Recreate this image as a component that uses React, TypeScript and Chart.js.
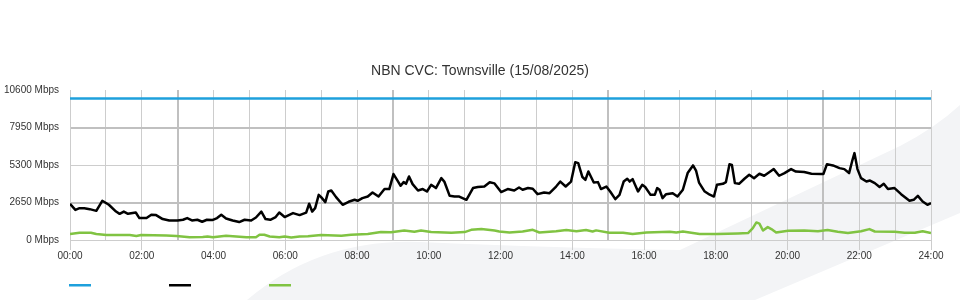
import React, { useEffect, useRef } from "react";
import { Chart, registerables } from "chart.js";

Chart.register(...registerables);

// ---- Data (minutes since midnight, Mbps) ----
const capacityMinutes = [0, 1440];
const capacityMbps = [10000, 10000];

const downloadMinutes = [
  0, 9, 16, 24, 33, 44, 54, 65, 77, 83, 90, 97, 110, 116, 128, 136, 144, 155, 166, 180,
  189, 196, 204, 213, 221, 229, 238, 246, 253, 261, 272, 283, 292, 303, 311, 320, 327, 335, 344, 350,
  359, 373, 384, 395, 400, 405, 410, 416, 420, 427, 432, 437, 445, 456, 466, 476, 481, 489, 498, 506,
  516, 526, 534, 541, 547, 553, 558, 562, 567, 573, 582, 590, 597, 604, 612, 621, 626, 635, 643, 651,
  663, 674, 682, 693, 702, 710, 721, 732, 743, 751, 757, 766, 774, 782, 793, 802, 813, 820, 829, 838,
  845, 850, 857, 862, 867, 876, 883, 888, 897, 904, 912, 919, 926, 932, 936, 941, 950, 957, 962, 971,
  978, 982, 986, 991, 997, 1008, 1016, 1025, 1033, 1042, 1047, 1052, 1061, 1070, 1077, 1082, 1092, 1097, 1103, 1107,
  1112, 1119, 1128, 1136, 1144, 1153, 1161, 1170, 1177, 1186, 1195, 1206, 1214, 1228, 1240, 1256, 1260, 1266, 1276, 1287,
  1295, 1303, 1308, 1312, 1317, 1323, 1332, 1338, 1346, 1354, 1361, 1368, 1379, 1390, 1404, 1411, 1418, 1426, 1434, 1440,
];
const downloadMbps = [
  2560, 2130, 2250, 2250, 2180, 2060, 2770, 2490, 2010, 1850, 2010, 1850, 1940, 1550, 1550, 1780, 1760, 1480, 1380, 1380,
  1430, 1550, 1380, 1430, 1290, 1430, 1410, 1550, 1780, 1520, 1380, 1270, 1430, 1380, 1590, 2010, 1480, 1430, 1620, 1940,
  1620, 1900, 1760, 1940, 2560, 2010, 2250, 3190, 3030, 2680, 3430, 3500, 3030, 2490, 2700, 2840, 2770, 2960, 3070, 3360,
  3070, 3600, 3600, 4660, 4250, 3830, 4090, 3970, 4490, 3950, 3500, 3600, 3430, 3900, 3670, 4370, 4130, 3120, 3070, 3070,
  2840, 3670, 3740, 3780, 4080, 4000, 3390, 3600, 3500, 3710, 3550, 3670, 3620, 3240, 3360, 3310, 3780, 4130, 3780, 4130,
  5500, 5430, 4450, 4250, 4840, 4060, 4090, 3600, 3780, 3390, 2890, 3190, 4130, 4330, 4130, 4300, 3430, 3900, 3740, 3190,
  3190, 3670, 3550, 2960, 3240, 3310, 3070, 3550, 4730, 5270, 4910, 4060, 3450, 3200, 3070, 3900, 3970, 4090, 5360, 5310,
  4020, 3970, 4330, 4610, 4370, 4680, 4540, 4800, 5010, 4540, 4730, 5010, 4840, 4800, 4680, 4660, 4660, 5360, 5270, 5080,
  5010, 4730, 5550, 6140, 5010, 4370, 4130, 4200, 4020, 3740, 3970, 3600, 3670, 3240, 2770, 2840, 3120, 2720, 2490, 2610,
];

const uploadMinutes = [
  0, 16, 35, 44, 61, 100, 111, 119, 161, 178, 200, 222, 230, 239, 261, 295, 311, 317, 325, 334,
  350, 359, 370, 384, 398, 420, 454, 470, 498, 520, 537, 559, 576, 587, 604, 638, 660, 671, 688, 699,
  710, 718, 735, 757, 774, 785, 813, 830, 847, 863, 874, 880, 902, 925, 941, 964, 1003, 1014, 1025, 1053,
  1070, 1083, 1117, 1134, 1142, 1148, 1153, 1159, 1167, 1173, 1181, 1201, 1228, 1251, 1267, 1284, 1301, 1323, 1337, 1346,
  1379, 1396, 1413, 1426, 1440,
];
const uploadMbps = [
  420, 510, 510, 420, 350, 350, 280, 350, 310, 280, 190, 220, 250, 190, 300, 190, 200, 370, 370, 250,
  190, 240, 170, 240, 260, 350, 300, 370, 420, 560, 540, 670, 590, 670, 560, 510, 560, 720, 770, 720,
  670, 600, 530, 600, 720, 530, 620, 700, 620, 700, 600, 680, 510, 510, 420, 530, 580, 530, 600, 420,
  420, 420, 460, 490, 840, 1240, 1160, 670, 910, 770, 530, 650, 670, 620, 700, 580, 490, 620, 770, 600,
  580, 510, 510, 620, 490,
];

const yTicks = [0, 2650, 5300, 7950, 10600];
const titleText = "NBN CVC: Townsville (15/08/2025)";

const FONT = "'Liberation Sans', Arial, Helvetica, sans-serif";

const toPoints = (xs: number[], ys: number[]) => xs.map((x, i) => ({ x, y: ys[i] }));

const fmtTime = (m: number) => {
  const h = Math.floor(m / 60);
  const mm = m % 60;
  return `${String(h).padStart(2, "0")}:${String(mm).padStart(2, "0")}`;
};

const GRID = "#cdcdcd";
const GRID_DARK = "#c0c0c0";

const swooshPlugin = {
  id: "swoosh",
  beforeDraw(chart: any) {
    const { ctx } = chart;
    ctx.save();
    ctx.fillStyle = "#f3f4f6";
    ctx.beginPath();
    ctx.moveTo(247, 300);
    ctx.quadraticCurveTo(320, 238, 420, 242);
    ctx.quadraticCurveTo(560, 248, 680, 250);
    ctx.lineTo(900, 146);
    ctx.quadraticCurveTo(935, 128, 960, 105);
    ctx.lineTo(960, 213);
    ctx.lineTo(755, 300);
    ctx.closePath();
    ctx.fill();
    ctx.restore();
  },
};

const swatchLegendPlugin = {
  id: "swatchLegend",
  afterDraw(chart: any) {
    const { ctx, chartArea } = chart;
    ctx.save();
    chart.data.datasets.forEach((ds: any, i: number) => {
      ctx.fillStyle = ds.borderColor;
      ctx.fillRect(chartArea.left - 1 + i * 100, 284, 22, 2.5);
    });
    ctx.restore();
  },
};

export default function App() {
  const canvasRef = useRef<HTMLCanvasElement | null>(null);

  useEffect(() => {
    document.body.style.margin = "0";
    if (!canvasRef.current) return;
    const chart = new Chart(canvasRef.current, {
      type: "line",
      data: {
        datasets: [
          {
            label: "Capacity",
            data: toPoints(capacityMinutes, capacityMbps),
            borderColor: "#1ea0dc",
            borderWidth: 2.5,
            pointRadius: 0,
            tension: 0,
          },
          {
            label: "Download",
            data: toPoints(downloadMinutes, downloadMbps),
            borderColor: "#000000",
            borderWidth: 2.5,
            pointRadius: 0,
            tension: 0,
            borderJoinStyle: "round",
          },
          {
            label: "Upload",
            data: toPoints(uploadMinutes, uploadMbps),
            borderColor: "#80c342",
            borderWidth: 2.5,
            pointRadius: 0,
            tension: 0,
            borderJoinStyle: "round",
          },
        ],
      },
      options: {
        animation: false,
        responsive: true,
        maintainAspectRatio: false,
        layout: { padding: 0 },
        plugins: {
          legend: { display: false },
          tooltip: { enabled: false },
          title: {
            display: true,
            text: titleText,
            color: "#333333",
            font: { family: FONT, size: 14, weight: "normal" },
            padding: { top: 63, bottom: 10.2 },
          },
        },
        scales: {
          x: {
            type: "linear",
            min: 0,
            max: 1440,
            afterFit: (scale: any) => {
              scale.height = 60;
            },
            ticks: {
              stepSize: 60,
              autoSkip: false,
              maxRotation: 0,
              padding: 0,
              color: "#333333",
              font: { family: FONT, size: 10 },
              callback: (v: any) => (Number(v) % 120 === 0 ? fmtTime(Number(v)) : ""),
            },
            grid: {
              tickLength: 10,
              color: (c: any) => ((c.tick?.value / 60) % 6 === 3 ? GRID_DARK : GRID),
              lineWidth: (c: any) => ((c.tick?.value / 60) % 6 === 3 ? 2 : 1),
              tickColor: (c: any) => (c.tick?.value % 120 === 0 ? GRID : "rgba(0,0,0,0)"),
            },
            border: { color: GRID, width: 1 },
          },
          y: {
            type: "linear",
            min: yTicks[0],
            max: yTicks[yTicks.length - 1],
            afterFit: (scale: any) => {
              scale.width = 70;
            },
            afterBuildTicks: (scale: any) => {
              scale.ticks = yTicks.map((v) => ({ value: v }));
            },
            ticks: {
              padding: 11,
              color: "#333333",
              font: { family: FONT, size: 10 },
              callback: (v: any) => `${v} Mbps`,
            },
            grid: {
              drawTicks: false,
              color: (c: any) =>
                c.tick?.value === 10600
                  ? "rgba(0,0,0,0)"
                  : c.tick?.value === 2650 || c.tick?.value === 7950
                  ? GRID_DARK
                  : GRID,
              lineWidth: (c: any) => (c.tick?.value === 2650 || c.tick?.value === 7950 ? 2 : 1),
            },
            border: { color: GRID, width: 1 },
          },
          yRight: {
            type: "linear",
            position: "right",
            display: true,
            min: 0,
            max: 1,
            afterFit: (scale: any) => {
              scale.width = 29;
            },
            ticks: { display: false },
            grid: { display: false, drawTicks: false },
            border: { display: false },
          },
        },
      },
      plugins: [swooshPlugin, swatchLegendPlugin],
    });
    return () => chart.destroy();
  }, []);

  return (
    <div style={{ width: 960, height: 300, position: "relative" }}>
      <canvas ref={canvasRef} />
    </div>
  );
}
